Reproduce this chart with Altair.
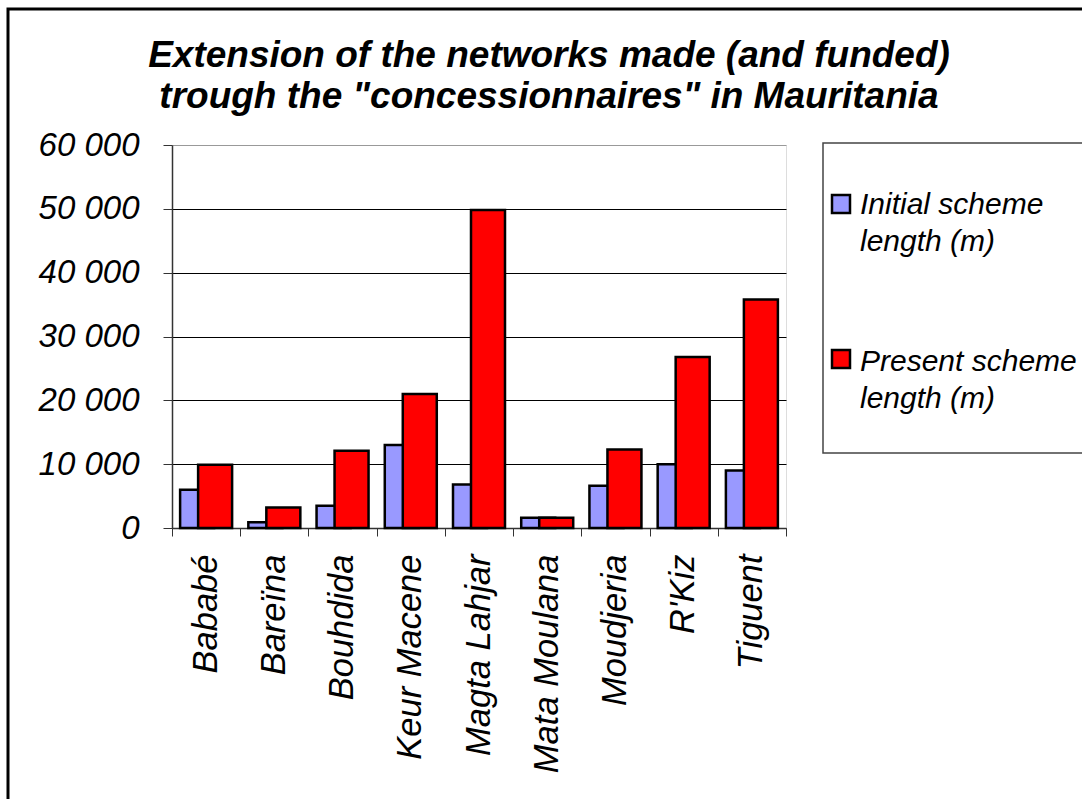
import altair as alt
import pandas as pd

places = ["Bababé", "Bareïna", "Bouhdida", "Keur Macene", "Magta Lahjar",
          "Mata Moulana", "Moudjeria", "R'Kiz", "Tiguent"]
initial_len = [6000, 900, 3500, 13000, 6800, 1600, 6600, 10000, 9000]
present_len = [9900, 3200, 12100, 21000, 49800, 1600, 12300, 26800, 35800]
series_names = ["Initial scheme\nlength (m)", "Present scheme\nlength (m)"]
series_colors = ["#9999FF", "#FF0000"]
y_ticks = [0, 10000, 20000, 30000, 40000, 50000, 60000]
title_lines = ["Extension of the networks made (and funded)",
               "trough the \"concessionnaires\" in Mauritania"]

FONT = "Liberation Sans"
W, H = 614, 383
L, T = 172, 145

df = pd.DataFrame({"place": places, "initial": initial_len, "present": present_len})
one = pd.DataFrame({"k": [0]})

xenc = alt.X("place:N", sort=places, title=None,
             scale=alt.Scale(paddingInner=0, paddingOuter=0),
             axis=alt.Axis(labelAngle=270, labelFont=FONT, labelFontSize=34.5,
                           labelFontStyle="italic", labelColor="black",
                           tickBand="extent", tickSize=8, tickColor="#333",
                           domainColor="#333", domainWidth=1.5,
                           labelPadding=18, grid=False, labelLimit=400))
yscale = alt.Scale(domain=[0, 60000])
yaxis = alt.Axis(values=y_ticks, title=None, labelFont=FONT, labelFontSize=33,
                 labelFontStyle="italic", labelColor="black",
                 labelExpr="replace(format(datum.value, ','), ',', ' ')",
                 tickSize=9, tickColor="#333", domainColor="#333", domainWidth=1.5,
                 labelPadding=24,
                 grid=True, gridWidth=1,
                 gridColor={"condition": {"test": "datum.value >= 60000", "value": "#999999"},
                            "value": "#000000"})

frame = alt.Chart(one).mark_rect(filled=False, stroke="black", strokeWidth=3).encode(
    x=alt.value(8 - L), x2=alt.value(1100 - L), y=alt.value(9 - T), y2=alt.value(820 - T))

title_text = alt.Chart(one).mark_text(
    align="center", baseline="alphabetic", font=FONT, fontSize=37, fontWeight="bold",
    fontStyle="italic", color="black", lineBreak="\n", lineHeight=41).encode(
    x=alt.value(549 - L), y=alt.value(67 - T), text=alt.value("\n".join(title_lines)))

bars_init = alt.Chart(df).mark_bar(width=34, xOffset=-9, stroke="black", strokeWidth=2.5,
                                   color=series_colors[0]).encode(
    x=xenc, y=alt.Y("initial:Q", scale=yscale, axis=yaxis))
bars_pres = alt.Chart(df).mark_bar(width=34, xOffset=9, stroke="black", strokeWidth=2.5,
                                   color=series_colors[1]).encode(
    x=xenc, y=alt.Y("present:Q", scale=yscale))

leg_box = alt.Chart(one).mark_rect(fill="white", stroke="#444", strokeWidth=1.5).encode(
    x=alt.value(823 - L), x2=alt.value(1100 - L), y=alt.value(143 - T), y2=alt.value(453 - T))

legend_layers = []
sym_y = [195, 350]
txt_y = [214, 371]
for i in range(2):
    legend_layers.append(
        alt.Chart(one).mark_rect(fill=series_colors[i], stroke="black", strokeWidth=2.5).encode(
            x=alt.value(832 - L), x2=alt.value(850 - L),
            y=alt.value(sym_y[i] - T), y2=alt.value(sym_y[i] + 18 - T)))
    legend_layers.append(
        alt.Chart(one).mark_text(align="left", baseline="alphabetic", font=FONT, fontSize=30,
                                 fontStyle="italic", color="black", lineBreak="\n",
                                 lineHeight=37).encode(
            x=alt.value(860 - L), y=alt.value(txt_y[i] - T),
            text=alt.value(series_names[i])))

chart = alt.layer(frame, title_text, bars_init, bars_pres, leg_box, *legend_layers).properties(
    width=W, height=H,
    autosize=alt.AutoSizeParams(type="none"),
    padding={"left": L, "top": T, "right": 1082 - L - W, "bottom": 799 - T - H},
).configure_view(stroke="#888888", strokeWidth=2).configure(background="white")

chart.save("out.html", embed_options={"renderer": "svg", "actions": False})
